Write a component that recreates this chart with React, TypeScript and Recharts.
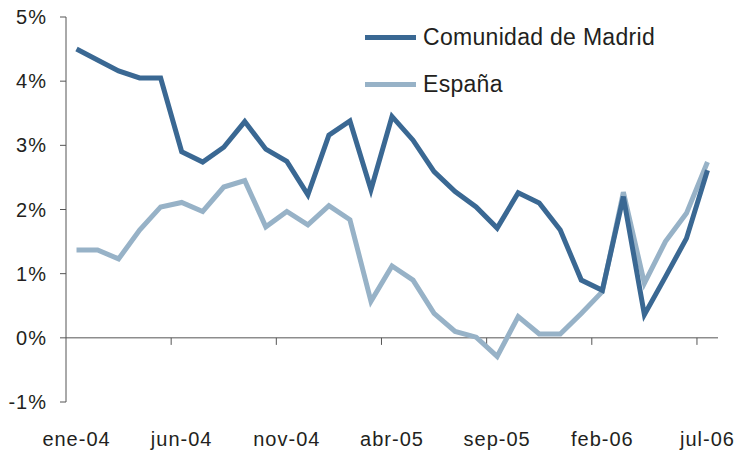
import React from "react";
import {
  LineChart,
  Line,
  XAxis,
  YAxis,
  ReferenceLine,
  Legend,
} from "recharts";

const months = [
  "ene-04", "feb-04", "mar-04", "abr-04", "may-04", "jun-04", "jul-04", "ago-04",
  "sep-04", "oct-04", "nov-04", "dic-04", "ene-05", "feb-05", "mar-05", "abr-05",
  "may-05", "jun-05", "jul-05", "ago-05", "sep-05", "oct-05", "nov-05", "dic-05",
  "ene-06", "feb-06", "mar-06", "abr-06", "may-06", "jun-06", "jul-06",
];

const madrid = [
  4.5, 4.33, 4.16, 4.05, 4.05, 2.9, 2.74, 2.97, 3.37, 2.94, 2.75, 2.23, 3.16, 3.38,
  2.31, 3.45, 3.08, 2.59, 2.28, 2.04, 1.71, 2.26, 2.1, 1.68, 0.9, 0.74, 2.2, 0.36,
  0.95, 1.55, 2.61,
];

const espana = [
  1.37, 1.37, 1.23, 1.68, 2.04, 2.11, 1.97, 2.35, 2.45, 1.73, 1.97, 1.76, 2.06, 1.84,
  0.57, 1.12, 0.9, 0.38, 0.1, 0.01, -0.29, 0.33, 0.06, 0.06, 0.38, 0.72, 2.27, 0.85,
  1.5, 1.94, 2.74,
];

const labelTicks = [0, 5, 10, 15, 20, 25, 30];
const markTicks = [4.5, 9.5, 14.5, 19.5, 24.5, 29.5];
const yTicks = [-1, 0, 1, 2, 3, 4, 5];

const DARK = "#3a6893";
const LIGHT = "#97b2c7";
const TEXT = "#231f20";
const AXIS = "#555555";

const data = months.map((m, i) => ({ i, month: m, madrid: madrid[i], espana: espana[i] }));

const renderLegend = () => {
  const items = [
    { name: "Comunidad de Madrid", color: DARK, top: 22 },
    { name: "España", color: LIGHT, top: 69 },
  ];
  return (
    <div style={{ position: "relative", width: 380, height: 100 }}>
      {items.map((it) => (
        <div
          key={it.name}
          style={{
            position: "absolute",
            left: 0,
            top: it.top,
            display: "flex",
            alignItems: "center",
            height: 30,
          }}
        >
          <span style={{ display: "inline-block", width: 51, height: 5, background: it.color }} />
          <span
            style={{
              marginLeft: 7,
              fontSize: 23,
              letterSpacing: 0.3,
              color: TEXT,
              lineHeight: "30px",
            }}
          >
            {it.name}
          </span>
        </div>
      ))}
    </div>
  );
};

export default function App() {
  return (
    <div
      style={{
        position: "absolute",
        left: 0,
        top: 0,
        width: 739,
        height: 450,
        background: "#fff",
        fontFamily: "'Liberation Sans', Arial, sans-serif",
      }}
    >
      <LineChart
        width={739}
        height={450}
        data={data}
        margin={{ top: 17, right: 21, bottom: 18, left: 0 }}
      >
        <XAxis
          dataKey="i"
          type="number"
          domain={[-0.5, 30.5]}
          ticks={labelTicks}
          tickFormatter={(v: number) => months[v]}
          axisLine={false}
          tickLine={false}
          tickSize={0}
          tickMargin={30}
          height={30}
          interval={0}
          tick={{ fontSize: 20, fill: TEXT, letterSpacing: 1 }}
        />
        <YAxis
          domain={[-1, 5]}
          ticks={yTicks}
          width={66}
          interval={0}
          tickFormatter={(v: number) => `${v}%`}
          axisLine={{ stroke: AXIS, strokeWidth: 1 }}
          tickLine={{ stroke: AXIS, strokeWidth: 1 }}
          tickSize={6}
          tickMargin={13}
          tick={{ fontSize: 20, fill: TEXT, letterSpacing: 1 }}
        />
        <ReferenceLine y={0} stroke={AXIS} strokeWidth={1} ifOverflow="extendDomain" />
        {markTicks.map((t) => (
          <ReferenceLine
            key={t}
            segment={[
              { x: t, y: 0 },
              { x: t, y: -0.11 },
            ]}
            stroke={AXIS}
            strokeWidth={1}
          />
        ))}
        <Line
          type="linear"
          dataKey="espana"
          name="España"
          stroke={LIGHT}
          strokeWidth={5}
          dot={false}
          activeDot={false}
          isAnimationActive={false}
        />
        <Line
          type="linear"
          dataKey="madrid"
          name="Comunidad de Madrid"
          stroke={DARK}
          strokeWidth={5}
          dot={false}
          activeDot={false}
          isAnimationActive={false}
        />
        <Legend
          layout="vertical"
          align="center"
          verticalAlign="middle"
          content={renderLegend}
          wrapperStyle={{ top: 0, left: 365, width: 380, height: 100 }}
        />
      </LineChart>
    </div>
  );
}
